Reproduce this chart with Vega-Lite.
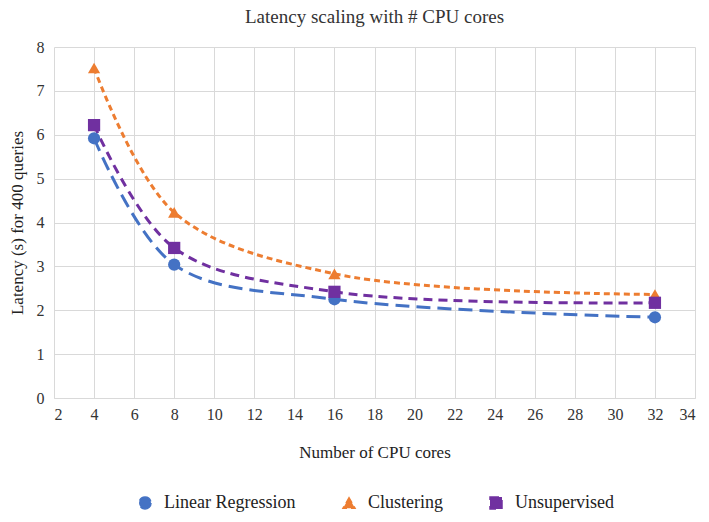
{
  "$schema": "https://vega.github.io/schema/vega-lite/v6.json",
  "width": 709,
  "height": 522,
  "autosize": {"type": "fit", "contains": "padding"},
  "padding": {"left": 8, "right": 14, "top": 8, "bottom": 10},
  "background": "white",
  "title": {"text": "Latency scaling with # CPU cores", "font": "Liberation Serif", "fontSize": 19, "fontWeight": "normal", "color": "#333333", "offset": 12},
  "data": {"values": [
    {"cores": 4, "latency": 5.92, "series": "Linear Regression"},
    {"cores": 8, "latency": 3.04, "series": "Linear Regression"},
    {"cores": 16, "latency": 2.25, "series": "Linear Regression"},
    {"cores": 32, "latency": 1.84, "series": "Linear Regression"},
    {"cores": 4, "latency": 7.52, "series": "Clustering"},
    {"cores": 8, "latency": 4.23, "series": "Clustering"},
    {"cores": 16, "latency": 2.83, "series": "Clustering"},
    {"cores": 32, "latency": 2.36, "series": "Clustering"},
    {"cores": 4, "latency": 6.22, "series": "Unsupervised"},
    {"cores": 8, "latency": 3.42, "series": "Unsupervised"},
    {"cores": 16, "latency": 2.42, "series": "Unsupervised"},
    {"cores": 32, "latency": 2.17, "series": "Unsupervised"}
  ]},
  "encoding": {
    "x": {"field": "cores", "type": "quantitative", "title": "Number of CPU cores",
      "scale": {"domain": [2, 34], "nice": false},
      "axis": {"values": [2,4,6,8,10,12,14,16,18,20,22,24,26,28,30,32,34], "grid": true, "gridColor": "#D9D9D9", "domain": true, "domainColor": "#D9D9D9", "ticks": false, "labelFont": "Liberation Serif", "labelFontSize": 16, "labelColor": "#333333", "titleFont": "Liberation Serif", "titleFontSize": 17, "titleFontWeight": "normal", "titleColor": "#222222", "titlePadding": 22, "labelPadding": 8}},
    "y": {"field": "latency", "type": "quantitative", "title": "Latency (s) for 400 queries",
      "scale": {"domain": [0, 8], "nice": false},
      "axis": {"values": [0,1,2,3,4,5,6,7,8], "grid": true, "gridColor": "#D9D9D9", "domain": false, "ticks": false, "labelFont": "Liberation Serif", "labelFontSize": 16, "labelColor": "#333333", "titleFont": "Liberation Serif", "titleFontSize": 17, "titleFontWeight": "normal", "titleColor": "#222222", "titlePadding": 10, "labelPadding": 10}},
    "color": {"field": "series", "type": "nominal", "title": null,
      "scale": {"domain": ["Linear Regression", "Clustering", "Unsupervised"], "range": ["#4472C4", "#ED7D31", "#7030A0"]},
      "legend": {"orient": "bottom", "direction": "horizontal", "labelFont": "Liberation Serif", "labelFontSize": 18, "labelColor": "#222222", "symbolSize": 144, "labelOffset": 10, "columnPadding": 44, "offset": 34}}
  },
  "layer": [
    {
      "mark": {"type": "line", "interpolate": "catmull-rom", "strokeWidth": 3},
      "encoding": {
        "strokeDash": {"field": "series", "type": "nominal", "title": null,
          "scale": {"domain": ["Linear Regression", "Clustering", "Unsupervised"], "range": [[14, 7], [6, 4], [9, 6]]},
          "legend": null}
      }
    },
    {
      "mark": {"type": "point", "filled": true, "opacity": 1, "size": 150},
      "encoding": {
        "shape": {"field": "series", "type": "nominal", "title": null,
          "scale": {"domain": ["Linear Regression", "Clustering", "Unsupervised"], "range": ["circle", "triangle-up", "square"]}}
      }
    }
  ],
  "config": {"view": {"stroke": null}, "legend": {"layout": {"bottom": {"anchor": "middle"}}}}
}
